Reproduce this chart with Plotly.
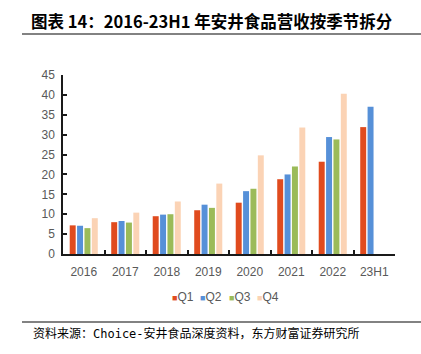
import plotly.graph_objects as go

categories = ["2016", "2017", "2018", "2019", "2020", "2021", "2022", "23H1"]
q1 = [7.2, 8.0, 9.5, 11.0, 12.9, 18.8, 23.2, 31.9]
q2 = [7.1, 8.3, 9.9, 12.4, 15.8, 20.0, 29.4, 37.0]
q3 = [6.5, 7.9, 10.0, 11.6, 16.4, 22.0, 28.8, None]
q4 = [9.0, 10.4, 13.2, 17.7, 24.8, 31.8, 40.3, None]
series_names = ["Q1", "Q2", "Q3", "Q4"]
colors = ["#E04B1E", "#5690D8", "#9BBB59", "#FBD3B5"]
yticks = [0, 5, 10, 15, 20, 25, 30, 35, 40, 45]

W, H = 421, 354
L, R, T, B = 63, 26, 75, 100

fig = go.Figure()
for name, vals, c in zip(series_names, [q1, q2, q3, q4], colors):
    fig.add_trace(go.Bar(x=categories, y=vals, name=name, marker_color=c,
                         marker_line_width=0, showlegend=False))

def px_x(x):
    return (x - L) / (W - L - R)

def px_y(y):
    return (H - B - y) / (H - T - B)

fig.update_layout(
    width=W, height=H,
    margin=dict(l=L, r=R, t=T, b=B),
    paper_bgcolor="white", plot_bgcolor="white",
    barmode="group", bargap=0.29, bargroupgap=0.19,
    font=dict(family="Liberation Sans, Arial", size=12, color="#595959"),
    showlegend=False,
    xaxis=dict(type="category", showline=True, linecolor="#1a1a1a", linewidth=1.5,
               ticks="inside", tickson="boundaries", ticklen=4, tickcolor="#1a1a1a",
               tickwidth=1.5, ticklabelstandoff=6,
               tickfont=dict(size=12, color="#595959", family="Liberation Sans, Arial"),
               showgrid=False, range=[-0.5, 7.5]),
    yaxis=dict(range=[0, 45], tickvals=yticks, showline=True, linecolor="#1a1a1a",
               linewidth=1.5, ticks="inside", ticklen=4, tickcolor="#1a1a1a",
               tickwidth=1.5, ticklabelstandoff=4,
               tickfont=dict(size=12, color="#595959", family="Liberation Sans, Arial"),
               showgrid=False, zeroline=False),
)

# legend drawn as text
leg_sq_x = [171, 199, 228, 256]
for name, c, sx in zip(series_names, colors, leg_sq_x):
    fig.add_annotation(text=f"<span style='color:{c};font-size:9px'>■</span>{name}",
                       xref="paper", yref="paper", x=px_x(sx - 1), y=px_y(297),
                       xanchor="left", yanchor="middle", showarrow=False,
                       font=dict(size=12, color="#595959", family="Liberation Sans, Arial"))

fig.add_annotation(text="<b>图表 14：2016-23H1 年安井食品营收按季节拆分</b>",
                   xref="paper", yref="paper", x=px_x(29), y=px_y(21),
                   xanchor="left", yanchor="middle", showarrow=False,
                   font=dict(size=16.5, color="black", family="Noto Sans CJK SC"))
fig.add_shape(type="line", xref="paper", yref="paper",
              x0=px_x(22), x1=px_x(421), y0=px_y(34), y1=px_y(34),
              line=dict(color="#595959", width=1.5))
fig.add_shape(type="line", xref="paper", yref="paper",
              x0=px_x(22), x1=px_x(421), y0=px_y(322), y1=px_y(322),
              line=dict(color="#595959", width=1.5))
fig.add_annotation(text="资料来源：Choice-安井食品深度资料，东方财富证券研究所",
                   xref="paper", yref="paper", x=px_x(31), y=px_y(333),
                   xanchor="left", yanchor="middle", showarrow=False,
                   font=dict(size=12, color="black", family="DejaVu Sans Mono, Noto Sans CJK SC"))

fig.write_html("out.html")
